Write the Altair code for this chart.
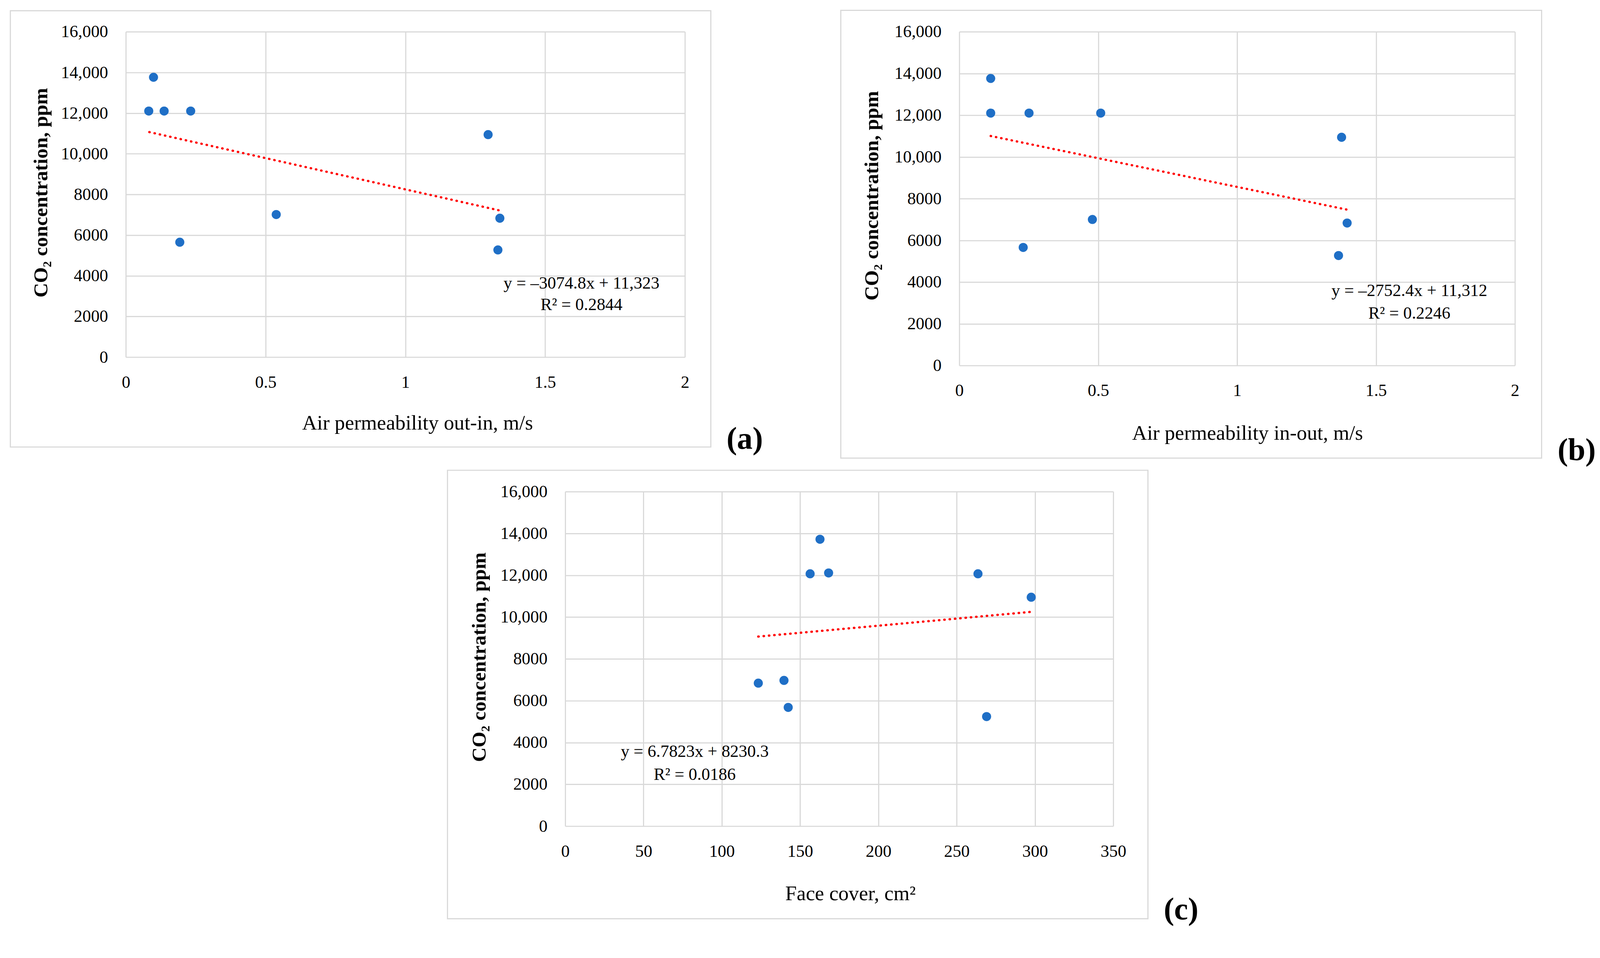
import altair as alt
import pandas as pd

FONT = "Liberation Serif"
BLUE = "#1f6fc6"
GRID = "#d9d9d9"

# ---------------- data ----------------
# (a) Air permeability out-in
a_x = [0.099, 0.082, 0.137, 0.232, 1.296, 0.538, 0.193, 1.338, 1.331]
a_y = [13760, 12100, 12100, 12100, 10940, 7010, 5650, 6830, 5270]
a_trend_x = [0.084, 1.338]
a_trend_y = [11065, 7209]
a_eq_text = ["y = \u20133074.8x + 11,323", "R\u00b2 = 0.2844"]
a_eq_x = [1.63, 1.63]
a_eq_y = [3635, 2567]

# (b) Air permeability in-out
b_x = [0.113, 0.113, 0.251, 0.509, 1.376, 0.479, 0.230, 1.396, 1.365]
b_y = [13760, 12100, 12100, 12100, 10940, 7000, 5660, 6830, 5270]
b_trend_x = [0.113, 1.396]
b_trend_y = [11001, 7470]
b_eq_text = ["y = \u20132752.4x + 11,312", "R\u00b2 = 0.2246"]
b_eq_x = [1.62, 1.62]
b_eq_y = [3580, 2502]

# (c) Face cover
c_x = [162.7, 156.4, 168.2, 263.6, 297.6, 123.3, 139.7, 142.4, 269.1]
c_y = [13720, 12070, 12110, 12070, 10950, 6840, 6970, 5680, 5240]
c_trend_x = [123.3, 297.6]
c_trend_y = [9067, 10249]
c_eq_text = ["y = 6.7823x + 8230.3", "R\u00b2 = 0.0186"]
c_eq_x = [82.7, 82.7]
c_eq_y = [3572, 2460]

y_ticks = [0, 2000, 4000, 6000, 8000, 10000, 12000, 14000, 16000]
ab_x_ticks = [0, 0.5, 1, 1.5, 2]
c_x_ticks = [0, 50, 100, 150, 200, 250, 300, 350]

Y_TITLE = "CO\u2082 concentration, ppm"

one = pd.DataFrame({"k": [0]})


def panel(px, py, tx, ty, eqt, eqx, eqy, xdom, xticks, xfmt, xtitle, w, h, g):
    xaxis = alt.Axis(
        values=xticks, format=xfmt, grid=True, gridColor=GRID, gridWidth=3,
        ticks=False, tickSize=0, domain=False, labelFlush=False, labelOverlap=False,
        labelFont=FONT, labelFontSize=45, labelColor="black", labelPadding=80,
        labelBaseline="alphabetic",
        title=xtitle, titleFont=FONT, titleFontSize=54, titleFontWeight="normal",
        titleColor="black", titleX=g["xtx"], titleY=g["xty"],
        titleBaseline="alphabetic", titleAlign="center",
    )
    yaxis = alt.Axis(
        values=y_ticks, grid=True, gridColor=GRID, gridWidth=3,
        ticks=False, tickSize=0, domain=False, labelFlush=False, labelOverlap=False,
        labelExpr="datum.value >= 10000 ? format(datum.value, ',') : format(datum.value, 'd')",
        labelFont=FONT, labelFontSize=45, labelColor="black", labelPadding=47,
        title=Y_TITLE, titleFont=FONT, titleFontSize=53, titleFontWeight="bold",
        titleColor="black", titleX=g["ytx"], titleY=g["yty"], titleAngle=270,
        titleBaseline="alphabetic", titleAlign="center",
    )
    xs = alt.Scale(domain=xdom, nice=False, zero=False)
    ys = alt.Scale(domain=[0, 16000], nice=False)

    def X():
        return alt.X("x:Q", scale=xs, axis=xaxis)

    def Y():
        return alt.Y("y:Q", scale=ys, axis=yaxis)

    # invisible frame fixing each panel's extent in the layout
    frame = alt.Chart(one).mark_rect(opacity=0).encode(
        x=alt.value(g["fx"][0]), x2=alt.value(g["fx"][1]),
        y=alt.value(g["fy"][0]), y2=alt.value(g["fy"][1]))
    box = alt.Chart(one).mark_rect(filled=False, stroke=GRID, strokeWidth=3).encode(
        x=alt.value(g["bx"][0]), x2=alt.value(g["bx"][1]),
        y=alt.value(g["by"][0]), y2=alt.value(g["by"][1]))
    pts = alt.Chart(pd.DataFrame({"x": px, "y": py})).mark_circle(
        size=570, color=BLUE, opacity=1).encode(x=X(), y=Y())
    trend = alt.Chart(pd.DataFrame({"x": tx, "y": ty})).mark_line(
        color="#ff0000", strokeWidth=6, strokeDash=[1, 13], strokeCap="round").encode(x=X(), y=Y())
    eq = alt.Chart(pd.DataFrame({"x": eqx, "y": eqy, "t": eqt})).mark_text(
        font=FONT, fontSize=45, color="black", align="center", baseline="middle").encode(
        x=X(), y=Y(), text="t:N")
    lab = alt.Chart(one).mark_text(
        font=FONT, fontSize=82, fontWeight="bold", color="black",
        align="center", baseline="alphabetic").encode(
        x=alt.value(g["lx"]), y=alt.value(g["ly"]), text=alt.value(g["lab"]))
    return alt.layer(frame, box, trend, pts, eq, lab).properties(width=w, height=h)


ga = dict(fx=[-322, 1770], fy=[-75, 1145], bx=[-303, 1535], by=[-55, 1090],
          lx=1624, ly=1094, lab="(a)", xtx=765, xty=190, ytx=-207, yty=422)
gb = dict(fx=[-417, 1673], fy=[-75, 1144], bx=[-311, 1528], by=[-56, 1119],
          lx=1620, ly=1124, lab="(b)", xtx=756, xty=194, ytx=-214, yty=430)
gc = dict(fx=[-320, 2690], fy=[-62, 1152], bx=[-309, 1529], by=[-56, 1121],
          lx=1616, ly=1123, lab="(c)", xtx=748, xty=194, ytx=-210, yty=434)

pa = panel(a_x, a_y, a_trend_x, a_trend_y, a_eq_text, a_eq_x, a_eq_y, [0, 2], ab_x_ticks, "~g",
           "Air permeability out-in, m/s", 1467, 854, ga)
pb = panel(b_x, b_y, b_trend_x, b_trend_y, b_eq_text, b_eq_x, b_eq_y, [0, 2], ab_x_ticks, "~g",
           "Air permeability in-out, m/s", 1458, 876, gb)
pc = panel(c_x, c_y, c_trend_x, c_trend_y, c_eq_text, c_eq_x, c_eq_y, [0, 350], c_x_ticks, "d",
           "Face cover, cm\u00b2", 1438, 878, gc)

spacer = alt.Chart(one).mark_rect(opacity=0).encode(
    x=alt.value(0), x2=alt.value(1), y=alt.value(0), y2=alt.value(1)
).properties(width=1, height=1)

top = alt.hconcat(pa, pb, spacing=0)
bottom = alt.hconcat(spacer, pc, spacing=832)
chart = alt.vconcat(top, bottom, spacing=0).properties(
    padding={"top": -30, "left": 0, "right": 0, "bottom": 0}, background="white"
).configure_view(strokeWidth=0)

chart.save("out.html", embed_options={"renderer": "svg", "actions": False})
